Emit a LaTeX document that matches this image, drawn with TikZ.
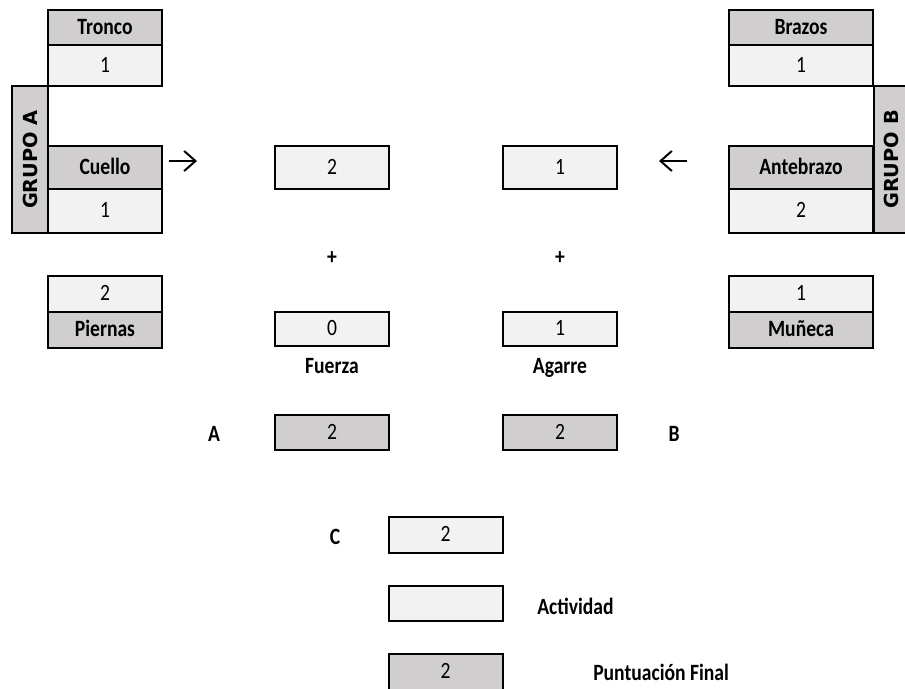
\documentclass[tikz,border=0pt]{standalone}
\usepackage{fontspec}
\setmainfont{Carlito}[FakeStretch=0.84]
\newfontfamily\grupofont{DejaVu Sans}
\definecolor{celdaOscura}{HTML}{D0CECE}
\definecolor{celdaClara}{HTML}{F2F2F2}
\usetikzlibrary{arrows.meta}

\begin{document}
\begin{tikzpicture}[x=0.75pt, y=-0.75pt,
  celda/.style={draw=black, line width=1.5pt, inner sep=0pt,
                text height=12pt, text depth=2pt,
                minimum width=85.5pt, font=\fontsize{17.5}{20}\selectfont},
  titulo/.style={celda, fill=celdaOscura,
                 font=\fontsize{17.5}{20}\selectfont\bfseries},
  valor/.style={celda, fill=celdaClara},
  ancha/.style={minimum width=108pt},
  grupo/.style={draw=black, line width=1.5pt, fill=celdaOscura, rotate=90,
                inner sep=0pt, minimum width=110.25pt, minimum height=27pt,
                font=\grupofont\fontsize{14.5}{17}\selectfont\bfseries},
  etiqueta/.style={inner sep=0pt, anchor=base,
                   font=\fontsize{17.5}{20}\selectfont\bfseries},
  flecha/.style={-{Straight Barb[length=8.5pt, width=15pt]}, line width=1.5pt}]

  \clip (0,0) rectangle (905,688);

  % grupo A
  \node[grupo] (grupoA) at (30,159.5) {GRUPO A};
  \node[titulo, minimum height=26.25pt] (tronco)  at (105,27.5)  {Tronco};
  \node[valor,  minimum height=30.75pt] (troncoV) at (105,65.5)  {1};
  \node[titulo, minimum height=32.25pt] (cuello)  at (105,167.5) {Cuello};
  \node[valor,  minimum height=33pt]    (cuelloV) at (105,211)   {1};
  \node[valor,  minimum height=27pt]    (piernasV) at (105,294)  {2};
  \node[titulo, minimum height=27pt]    (piernas) at (105,330)   {Piernas};

  % grupo B
  \node[grupo] (grupoB) at (891.5,159.5) {GRUPO B};
  \node[titulo, ancha, minimum height=26.25pt] (brazos)  at (801,27.5)  {Brazos};
  \node[valor,  ancha, minimum height=30.75pt] (brazosV) at (801,65.5)  {1};
  \node[titulo, ancha, minimum height=32.25pt] (antebrazo)  at (801,167.5) {Antebrazo};
  \node[valor,  ancha, minimum height=33pt]    (antebrazoV) at (801,211)   {2};
  \node[valor,  ancha, minimum height=27pt]    (munecaV) at (801,294) {1};
  \node[titulo, ancha, minimum height=27pt]    (muneca)  at (801,330) {Muñeca};

  % flechas hacia las tablas
  \coordinate (fA1) at (169,161);
  \coordinate (fA2) at (197,161);
  \coordinate (fB1) at (687,161);
  \coordinate (fB2) at (659,161);
  \draw[flecha] (fA1) -- (fA2);
  \draw[flecha] (fB1) -- (fB2);

  % columna A
  \node[valor,  minimum height=32.25pt] (tablaA)  at (332,167.5) {2};
  \node[etiqueta] (masA) at (332,264) {+};
  \node[valor,  minimum height=25.5pt]  (fuerza)  at (332,329)   {0};
  \node[etiqueta] (fuerzaT) at (332,373) {Fuerza};
  \node[titulo, minimum height=26.25pt, font=\fontsize{17.5}{20}\selectfont]
        (puntA) at (332,432.5) {2};
  \node[etiqueta] (letraA) at (214,441) {A};

  % columna B
  \node[valor,  minimum height=32.25pt] (tablaB)  at (560,167.5) {1};
  \node[etiqueta] (masB) at (560,264) {+};
  \node[valor,  minimum height=25.5pt]  (agarre)  at (560,329)   {1};
  \node[etiqueta] (agarreT) at (560,373) {Agarre};
  \node[titulo, minimum height=26.25pt, font=\fontsize{17.5}{20}\selectfont]
        (puntB) at (560,432.5) {2};
  \node[etiqueta] (letraB) at (674,441) {B};

  % puntuacion C y final
  \node[valor, minimum height=27pt] (puntC) at (445.5,535) {2};
  \node[etiqueta] (letraC) at (335,544) {C};
  \node[valor, minimum height=26.25pt] (actividad) at (445.5,603.5) {};
  \node[etiqueta, anchor=base west] (actividadT) at (537,614) {Actividad};
  \node[titulo, minimum height=27pt, font=\fontsize{17.5}{20}\selectfont]
        (final) at (445.5,672) {2};
  \node[etiqueta, anchor=base west] (finalT) at (593,680) {Puntuación Final};
\end{tikzpicture}
\end{document}
